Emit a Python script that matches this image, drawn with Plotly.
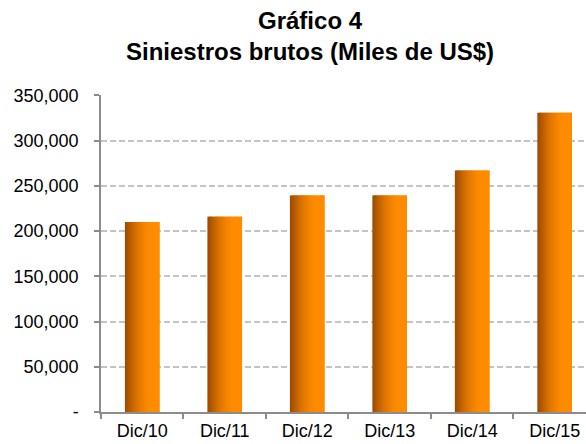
import plotly.graph_objects as go

categories = ["Dic/10", "Dic/11", "Dic/12", "Dic/13", "Dic/14", "Dic/15"]
siniestros = [210000, 216000, 239500, 239500, 267000, 331000]
y_tickvals = [0, 50000, 100000, 150000, 200000, 250000, 300000, 350000]
y_ticktext = ["-", "50,000", "100,000", "150,000", "200,000", "250,000", "300,000", "350,000"]
title_text = "<b>Gráfico 4<br>Siniestros brutos (Miles de US$)</b>"

fig = go.Figure()

# gradient bar emulated by narrow overlaid strips
N = 20
bar_w = 0.42
strip = bar_w / N
dark = (155, 72, 0)
bright = (255, 140, 0)
for i in range(N):
    t = (i + 0.5) / N
    f = min(1.0, t / 0.75)
    f = 1 - (1 - f) ** 1.6
    c = tuple(int(round(dark[k] + (bright[k] - dark[k]) * f)) for k in range(3))
    w = strip * 2 if i < N - 1 else strip
    fig.add_trace(go.Bar(
        x=categories, y=siniestros,
        width=w, offset=-bar_w / 2 + i * strip,
        marker=dict(color=f"rgb{c}", line=dict(width=0)),
        showlegend=False, hoverinfo="y",
    ))

fig.update_layout(
    width=586, height=444,
    margin=dict(l=101, r=0, t=95, b=32),
    paper_bgcolor="white", plot_bgcolor="white",
    barmode="overlay",
    font=dict(family="Liberation Sans, Arial, sans-serif", size=18, color="black"),
    annotations=[dict(
        text=title_text, showarrow=False,
        xref="paper", yref="paper",
        x=(310 - 101) / 485, xanchor="center",
        y=1 + (95 - 5) / 317, yanchor="top",
        font=dict(size=24, color="black"), align="center",
    )],
)
fig.update_xaxes(
    type="category", range=[-0.5, 5.38],
    showline=True, linecolor="#8c8c8c", linewidth=1.5,
    ticks="outside", tickson="boundaries", ticklen=5, tickcolor="#8c8c8c", tickwidth=1.5,
    showgrid=False, tickfont=dict(size=18), ticklabelstandoff=2,
)
fig.update_yaxes(
    range=[0, 350500], tickvals=y_tickvals, ticktext=y_ticktext,
    showline=True, linecolor="#8c8c8c", linewidth=1.5,
    ticks="outside", ticklen=5, tickcolor="#8c8c8c", tickwidth=1.5,
    showgrid=True, gridcolor="#c4c4c4", gridwidth=1.5, griddash="6px,3px",
    zeroline=False, tickfont=dict(size=18), ticklabelstandoff=12,
)

fig.write_html("out.html", config={"displayModeBar": False},
               post_script="document.body.style.margin='0px';")
